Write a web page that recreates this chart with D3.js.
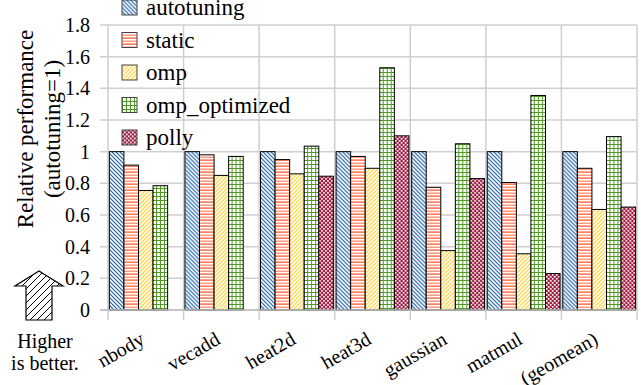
<!DOCTYPE html>
<html><head><meta charset="utf-8">
<script src="https://cdn.jsdelivr.net/npm/d3@7"></script>
<style>body{margin:0;background:#fff}text{font-family:'Liberation Serif','DejaVu Serif',serif}</style>
</head><body><svg id="c" width="641" height="385"></svg>
<script>
const categories = ["nbody","vecadd","heat2d","heat3d","gaussian","matmul","(geomean)"];
const seriesNames = ["autotuning","static","omp","omp_optimized","polly"];
const autotuning = [1,1,1,1,1,1,1];
const staticV = [0.915,0.98,0.95,0.97,0.775,0.805,0.895];
const omp = [0.755,0.85,0.86,0.895,0.375,0.355,0.635];
const ompOptimized = [0.785,0.97,1.035,1.53,1.05,1.355,1.095];
const polly = [null,null,0.845,1.10,0.83,0.23,0.65];
const yTicks = [0,0.2,0.4,0.6,0.8,1,1.2,1.4,1.6,1.8];
const seriesValues = [autotuning,staticV,omp,ompOptimized,polly];
const FONT = "'Liberation Serif', 'DejaVu Serif', serif";

const svg = d3.select("#c");
const defs = svg.append("defs");
function pat(id,w,h,draw){const p=defs.append("pattern").attr("id",id).attr("patternUnits","userSpaceOnUse").attr("width",w).attr("height",h);draw(p);}
pat("p0",4,4,p=>{p.append("rect").attr("width",4).attr("height",4).attr("fill","#fff");
  p.append("path").attr("d","M-1,-1L5,5M-1,3L1,5M3,-1L5,1").attr("stroke","#1f5fa6").attr("stroke-width",1.2);});
pat("p1",6,6,p=>{p.append("rect").attr("width",6).attr("height",6).attr("fill","#fff");
  p.append("rect").attr("y",0.5).attr("width",6).attr("height",1.5).attr("fill","#ff9c80");
  p.append("rect").attr("y",3.5).attr("width",6).attr("height",1.2).attr("fill","#ff4a1c");});
pat("p2",4,4,p=>{p.append("rect").attr("width",4).attr("height",4).attr("fill","#fff");
  p.append("path").attr("d","M-1,5L5,-1M-1,1L1,-1M3,5L5,3").attr("stroke","#ffd030").attr("stroke-width",1.2);});
pat("p3",4,4,p=>{p.append("rect").attr("width",4).attr("height",4).attr("fill","#fff");
  p.append("path").attr("d","M0.5,0V4M0,0.5H4").attr("stroke","#4f9a22").attr("stroke-width",1);});
pat("p4",4,4,p=>{p.append("rect").attr("width",4).attr("height",4).attr("fill","#9e1b40");
  p.append("rect").attr("x",0).attr("y",0).attr("width",1.7).attr("height",1.7).attr("fill","#fff");
  p.append("rect").attr("x",2).attr("y",2).attr("width",1.7).attr("height",1.7).attr("fill","#fff");});
pat("arrowHatch",7,7,p=>{p.append("path").attr("d","M-1,8L8,-1M-1,1L1,-1M6,8L8,6").attr("stroke","#000").attr("stroke-width",1);});

const x = d3.scaleBand().domain(categories).range([108,637]).paddingInner(0).paddingOuter(0);
const x1 = d3.scaleBand().domain(seriesNames).range([0,x.bandwidth()]).paddingOuter(0.094).paddingInner(0);
const y = d3.scaleLinear().domain([0,1.8]).range([310,25]);
const grid = "#cfcfcf";

svg.append("g").selectAll("line").data(yTicks).join("line")
  .attr("x1",100).attr("x2",637).attr("y1",d=>y(d)).attr("y2",d=>y(d))
  .attr("stroke",grid).attr("stroke-width",1.5);
const bounds = categories.map(c=>x(c)).concat([x.range()[1]]);
svg.append("g").selectAll("line").data(bounds).join("line")
  .attr("x1",d=>d).attr("x2",d=>d).attr("y1",y(1.8)).attr("y2",320)
  .attr("stroke",grid).attr("stroke-width",1.5);
svg.append("g").selectAll("text").data(yTicks).join("text")
  .attr("x",90).attr("y",d=>y(d)).attr("dy","0.35em").attr("text-anchor","end")
  .attr("font-family",FONT).attr("font-size",20).attr("fill","#000").text(d=>String(+d.toFixed(1)));

const groups = svg.append("g").selectAll("g").data(categories).join("g")
  .attr("transform",c=>`translate(${x(c)},0)`);
groups.selectAll("rect").data((c,i)=>seriesNames.map((s,j)=>({s,j,v:seriesValues[j][i]})).filter(d=>d.v!=null))
  .join("rect")
  .attr("x",d=>x1(d.s)).attr("width",x1.bandwidth())
  .attr("y",d=>y(d.v)).attr("height",d=>y(0)-y(d.v))
  .attr("fill",d=>`url(#p${d.j})`).attr("stroke","#000").attr("stroke-width",1);

svg.append("line").attr("x1",100).attr("x2",637).attr("y1",y(0)).attr("y2",y(0)).attr("stroke","#bdbdbd").attr("stroke-width",1.5);

svg.append("g").selectAll("text").data(categories).join("text")
  .attr("transform",c=>`translate(${x(c)+x.bandwidth()/2},343) rotate(-30)`)
  .attr("text-anchor","end").attr("font-family",FONT).attr("font-size",20).attr("fill","#000").text(c=>c);

const lg = svg.append("g").selectAll("g").data(seriesNames).join("g")
  .attr("transform",(s,i)=>`translate(122,${7.5+i*32.5})`);
lg.append("rect").attr("x",0).attr("y",-7.5).attr("width",15).attr("height",15)
  .attr("fill",(s,i)=>`url(#p${i})`).attr("stroke","#444").attr("stroke-width",1);
lg.append("text").attr("x",24).attr("y",0).attr("dy","0.33em").attr("font-family",FONT).attr("font-size",23).attr("fill","#000").text(s=>s);

svg.append("text").attr("transform","translate(25,129) rotate(-90)").attr("text-anchor","middle").attr("dominant-baseline","central").attr("font-family",FONT).attr("font-size",23).text("Relative performance");
svg.append("text").attr("transform","translate(52,129) rotate(-90)").attr("text-anchor","middle").attr("dominant-baseline","central").attr("font-family",FONT).attr("font-size",23).text("(autotuning=1)");

const ax=39, ad="M"+ax+",271 L"+(ax+24)+",286 L"+(ax+13)+",286 L"+(ax+13)+",320 L"+(ax-13)+",320 L"+(ax-13)+",286 L"+(ax-24)+",286 Z";
svg.append("path").attr("d",ad).attr("fill","url(#arrowHatch)").attr("stroke","#000").attr("stroke-width",1.2);

svg.append("text").attr("x",45).attr("y",348).attr("text-anchor","middle").attr("font-family",FONT).attr("font-size",20).text("Higher");
svg.append("text").attr("x",45).attr("y",370).attr("text-anchor","middle").attr("font-family",FONT).attr("font-size",20).text("is better.");
</script></body></html>
